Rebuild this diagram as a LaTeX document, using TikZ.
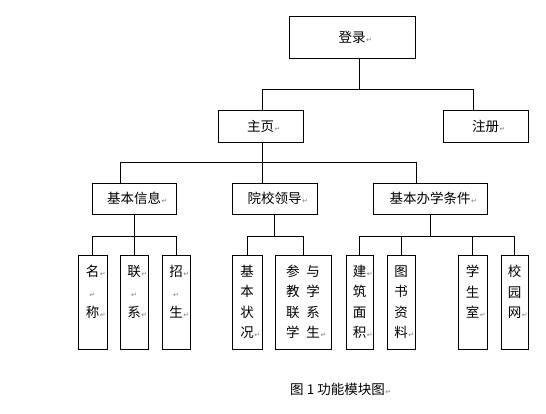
\documentclass[tikz,border=0pt]{standalone}
\usepackage{fontspec}
\setmainfont{Noto Sans CJK SC}
\newfontfamily\arrowfont{DejaVu Sans}
\usepackage{tikz}
\usetikzlibrary{positioning}

% paragraph mark as Word shows it
\newcommand{\retglyph}{{\arrowfont\fontsize{7pt}{7pt}\selectfont\textcolor{gray}{↵}}}
\newcommand{\retmark}{\rlap{\kern0.5pt\retglyph}}

\tikzset{
  box/.style={draw, rectangle, line width=0.9pt, inner sep=0pt,
    font=\fontsize{13.5pt}{20.5pt}\selectfont},
  tallbox/.style={box, align=center, minimum width=#1, minimum height=94pt},
  link/.style={line width=0.9pt},
}

\begin{document}
\begin{tikzpicture}[x=1pt, y=-1pt]
    \useasboundingbox (0,0) rectangle (546,414);

    % top levels
    \node[box, minimum width=126pt, minimum height=42pt] (login) at (352,37) {登录\retmark};
    \node[box, minimum width=85pt, minimum height=32pt] (home) at (260.5,126) {主页\retmark};
    \node[box, minimum width=85pt, minimum height=32pt] (reg) at (485.5,126) {注册\retmark};

    \node[box, minimum width=84pt, minimum height=31pt] (info) at (134,198.5) {基本信息\retmark};
    \node[box, minimum width=85pt, minimum height=31pt] (lead) at (274.5,198.5) {院校领导\retmark};
    \node[box, minimum width=114pt, minimum height=31pt] (cond) at (430,198.5) {基本办学条件\retmark};

    % leaves
    \node[tallbox=29pt] (name) at (92.5,302) {名\retmark\\\retglyph\\称\retmark\\~};
    \node[tallbox=28pt] (contact) at (134,302) {联\retmark\\\retglyph\\系\retmark\\~};
    \node[tallbox=28pt] (enrol) at (176,302) {招\retmark\\\retglyph\\生\retmark\\~};
    \node[tallbox=30pt] (state) at (247,302) {基\\本\\状\\况\retmark};
    \node[tallbox=56pt] (teach) at (303,302) {参\hspace{7pt}与\\教\hspace{7pt}学\\联\hspace{7pt}系\\学\hspace{7pt}生\retmark};
    \node[tallbox=27pt] (area) at (359.5,302) {建\retmark\\筑\\面\\积\retmark};
    \node[tallbox=28pt] (books) at (401,302) {图\\书\\资\\料\retmark};
    \node[tallbox=29pt] (room) at (472.5,302) {学\\生\\室\retmark\\~};
    \node[tallbox=27pt] (web) at (514.5,302) {校\\园\\网\retmark\\~};

    \node[font=\fontsize{13.5pt}{16pt}\selectfont] (title) at (337.5,389) {图 1 功能模块图\retmark};

    % bus points
    \coordinate (b1) at (359,89);
    \coordinate (b1r) at (473,89);
    \coordinate (b2) at (262,162);
    \coordinate (b2l) at (120,162);
    \coordinate (b2r) at (416,162);
    \coordinate (b3) at (0,236);

    % connectors
    \draw[link] (login.south -| b1) -- (b1);
    \draw[link] (home.north -| b2) |- (b1r) -- (reg.north -| b1r);

    \draw[link] (home.south -| b2) -- (b2);
    \draw[link] (info.north -| b2l) -- (b2l) -- (b2r) -- (cond.north -| b2r);
    \draw[link] (b2) -- (lead.north -| b2);

    \draw[link] (info.south) -- (contact.north);
    \draw[link] (name.north) |- (enrol.north |- b3) -- (enrol.north);

    \draw[link] (lead.south) -- (lead.south |- b3);
    \draw[link] (state.north) |- (teach.north |- b3) -- (teach.north);

    \draw[link] (cond.south) -- (cond.south |- b3);
    \draw[link] (area.north) |- (web.north |- b3) -- (web.north);
    \draw[link] (books.north) -- (books.north |- b3);
    \draw[link] (room.north) -- (room.north |- b3);
\end{tikzpicture}
\end{document}
